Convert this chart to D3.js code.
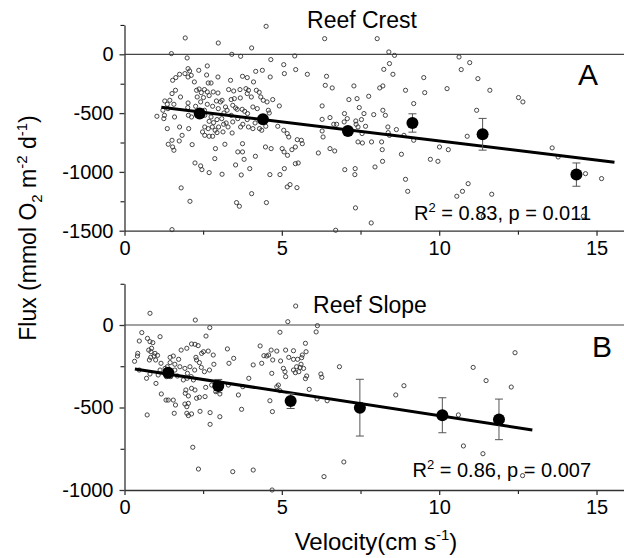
<!DOCTYPE html>
<html>
<head>
<meta charset="utf-8">
<script src="https://cdn.jsdelivr.net/npm/d3@7"></script>
<style>
  body { margin: 0; background: #fff; }
  svg text { font-family: "Liberation Sans", Arial, sans-serif; fill: #000; }
</style>
</head>
<body>
<div id="chart"></div>
<script>
// ---------------- data ----------------
// Reef crest: individual flux measurements [velocity, flux]
var crestPts = [
  [1.93,139],[2.98,96],[4.50,238],[1.49,6],[1.99,-31],[3.41,0],[3.69,-17],[4.04,54],[4.65,-45],[5.06,-88],
  [5.41,-14],[5.08,-164],[5.44,-130],[5.81,-170],[2.02,-122],[2.07,-142],[1.92,-164],[1.75,-170],[1.63,-198],[1.53,-221],
  [2.02,-193],[2.12,-179],[2.36,-136],[2.63,-99],[2.61,-176],[2.22,-235],[2.66,-244],[2.75,-244],[2.97,-193],[3.37,-221],
  [3.75,-187],[3.90,-198],[4.17,-145],[4.38,-136],[4.63,-193],[4.10,-235],[2.37,-295],[2.29,-306],[2.54,-300],[2.44,-326],
  [2.63,-320],[2.82,-320],[2.97,-329],[3.31,-300],[3.47,-312],[3.67,-300],[3.86,-292],[3.94,-306],[4.19,-306],[4.28,-323],
  [4.33,-363],[4.03,-363],[3.90,-334],[3.68,-371],[3.49,-377],[3.39,-385],[3.10,-391],[2.92,-397],[2.69,-351],[2.51,-368],
  [2.31,-363],[2.42,-405],[2.63,-425],[2.80,-442],[2.98,-462],[3.21,-448],[3.44,-434],[3.53,-456],[3.26,-476],[3.05,-405],
  [2.26,-442],[2.02,-414],[1.78,-363],[1.62,-306],[1.51,-334],[1.44,-391],[1.28,-397],[1.36,-425],[1.57,-425],[1.38,-462],
  [1.22,-476],[1.03,-527],[1.25,-547],[1.59,-533],[2.01,-453],[2.03,-519],[2.13,-533],[2.33,-504],[2.54,-476],[2.75,-533],
  [2.94,-555],[3.16,-499],[3.39,-519],[3.58,-468],[3.74,-468],[3.82,-485],[3.91,-504],[4.08,-448],[4.22,-462],[4.41,-391],
  [4.53,-405],[4.71,-385],[4.92,-439],[4.60,-499],[4.57,-476],[4.15,-584],[3.90,-555],[3.60,-547],[3.44,-575],[3.23,-584],
  [3.09,-547],[2.83,-581],[2.69,-570],[2.55,-519],[2.79,-618],[2.99,-618],[3.15,-595],[2.88,-646],[2.66,-632],[2.55,-618],
  [2.48,-660],[2.55,-689],[2.69,-697],[2.80,-697],[2.94,-666],[3.13,-660],[3.29,-618],[3.42,-669],[3.69,-618],[3.76,-595],
  [3.94,-618],[4.08,-632],[4.29,-632],[4.49,-612],[4.36,-646],[4.87,-612],[5.06,-646],[5.17,-674],[5.22,-703],[1.36,-632],
  [1.27,-519],[1.39,-765],[1.51,-731],[1.74,-737],[1.83,-689],[2.04,-632],[1.75,-618],[2.15,-768],[1.53,-788],[1.57,-816],
  [2.89,-802],[3.19,-765],[3.75,-760],[3.75,-830],[3.60,-830],[3.80,-893],[4.16,-867],[4.48,-788],[4.66,-802],[5.01,-802],
  [5.07,-830],[5.18,-859],[5.32,-811],[5.43,-788],[5.52,-924],[5.43,-930],[5.49,-726],[5.62,-731],[5.65,-760],[2.24,-924],
  [2.42,-949],[2.46,-981],[2.69,-1006],[3.10,-1020],[3.53,-941],[3.71,-1026],[3.98,-972],[4.62,-1023],[4.94,-1023],[5.08,-972],
  [5.17,-1128],[5.26,-1108],[5.48,-1134],[1.80,-1136],[2.08,-1250],[4.04,-1185],[4.51,-1261],[3.56,-1261],[3.65,-1292],[1.51,-1491],
  [2.87,-887],[6.16,-839],
  [6.36,133],[8.03,133],[8.40,20],[8.58,-9],[10.63,-23],[10.97,-71],[10.70,-130],[8.42,-79],[8.24,-128],[8.53,-170],
  [9.51,-198],[11.23,-207],[6.42,-187],[6.38,-264],[6.60,-286],[7.29,-269],[8.21,-269],[8.11,-286],[8.93,-306],[9.54,-326],
  [10.25,-292],[11.61,-306],[12.52,-368],[12.66,-405],[7.76,-357],[7.39,-377],[7.13,-385],[6.28,-439],[7.46,-453],[9.19,-419],
  [8.21,-476],[8.29,-519],[7.92,-513],[7.61,-504],[6.99,-504],[7.08,-547],[6.53,-538],[6.28,-553],[7.35,-567],[7.53,-555],
  [6.98,-575],[6.74,-595],[6.65,-595],[7.36,-595],[7.66,-612],[7.42,-618],[7.55,-674],[8.37,-618],[8.38,-666],[8.64,-640],
  [8.88,-689],[8.42,-689],[6.28,-652],[6.31,-703],[7.42,-745],[7.56,-754],[7.85,-745],[8.17,-745],[8.19,-811],[9.19,-731],
  [10.01,-788],[10.29,-811],[10.89,-697],[11.19,-476],[6.53,-802],[6.68,-822],[8.80,-850],[9.72,-893],[9.96,-910],[8.20,-910],
  [7.96,-958],[7.00,-981],[7.33,-972],[7.32,-1023],[8.93,-1063],[9.00,-1165],[10.92,-1100],[10.74,-1165],[10.56,-1207],[11.67,-1190],
  [7.34,-1306],[7.84,-1434],[6.71,-1496],[11.40,-1377],[13.59,-796],[13.78,-873],[14.65,-1015],[15.16,-1057],[14.58,-1377]
];
// Reef crest: binned means and error
var crestMeanX = [2.39, 4.40, 7.10, 9.15, 11.38, 14.36];
var crestMeanY = [-504, -553, -652, -584, -680, -1023];
var crestErr   = [30, 30, 30, 78, 135, 99];
var crestFitX  = [1.17, 15.57];
var crestFitY  = [-451, -918];

// Reef slope: individual flux measurements [velocity, flux]
var slopePts = [
  [0.81,71],[2.25,30],[2.71,-16],[2.59,-67],[0.55,-46],[0.47,-97],[0.73,-81],[0.81,-101],[0.90,-107],[1.13,-71],
  [1.05,-184],[0.97,-172],[0.42,-172],[0.41,-188],[0.32,-220],[0.47,-273],[0.70,-323],[0.79,-212],[0.84,-162],[0.77,-152],
  [0.94,-188],[0.99,-212],[0.83,-196],[0.86,-141],[1.45,-196],[1.45,-228],[1.60,-238],[1.55,-188],[1.72,-208],[1.36,-253],
  [1.13,-273],[1.29,-263],[1.16,-232],[1.33,-313],[1.47,-313],[1.00,-354],[1.17,-418],[1.32,-455],[1.60,-273],[1.68,-309],
  [1.87,-333],[2.00,-293],[1.92,-263],[1.76,-253],[1.80,-152],[1.98,-141],[2.13,-115],[2.24,-117],[2.34,-125],[2.27,-196],
  [2.29,-212],[2.38,-228],[2.44,-257],[2.45,-172],[2.51,-162],[2.66,-158],[2.82,-182],[2.84,-238],[2.70,-273],[2.54,-283],
  [2.23,-273],[2.08,-253],[2.12,-313],[1.99,-323],[2.19,-333],[2.13,-384],[1.95,-394],[2.03,-430],[1.93,-414],[1.92,-479],
  [2.03,-475],[1.98,-495],[1.98,-535],[2.29,-444],[2.24,-394],[2.38,-438],[2.56,-434],[2.58,-378],[2.77,-364],[2.90,-404],
  [3.03,-418],[3.03,-556],[2.72,-602],[2.40,-523],[2.03,-549],[2.13,-539],[1.62,-485],[1.58,-535],[1.39,-455],[1.55,-455],
  [2.72,-531],[3.27,-145],[3.32,-232],[3.47,-202],[3.30,-364],[3.62,-424],[3.76,-374],[3.95,-323],[3.72,-511],[4.09,-242],
  [4.31,-127],[4.43,-186],[4.36,-232],[4.52,-188],[4.58,-182],[4.66,-152],[4.71,-212],[4.84,-158],[4.94,-44],[4.96,-218],
  [4.68,-293],[4.62,-459],[4.70,-525],[4.84,-374],[4.89,-364],[4.94,-398],[5.05,-263],[5.10,-283],[5.12,-313],[5.22,-196],
  [5.12,-152],[5.19,20],[5.37,-208],[5.37,-273],[5.37,-156],[5.43,-289],[5.47,-253],[5.50,-208],[5.54,-283],[5.58,-257],
  [5.61,-238],[5.63,-198],[5.69,-263],[5.65,-182],[5.75,-111],[5.77,-162],[5.75,-325],[5.79,-309],[5.87,-390],[5.44,115],
  [6.09,-42],[6.13,-4],[6.24,-297],[6.27,-317],[6.12,-448],[6.44,-459],[6.34,-919],[4.69,-1000],[2.17,-741],[2.35,-873],
  [3.44,-889],[4.09,-879],[0.72,-545],[6.83,-253],[1.07,-303],[0.81,-297],
  [8.62,-424],[8.88,-368],[10.61,-545],[11.08,-257],[11.49,-337],[12.29,-376],[12.41,-168],[10.77,-733],[11.39,-780],[6.97,-830],
  [12.65,-913]
];
var slopeMeanX = [1.39, 2.98, 5.28, 7.48, 10.10, 11.90];
var slopeMeanY = [-289, -370, -461, -501, -547, -572];
var slopeErr   = [25, 40, 45, 172, 106, 123];
var slopeFitX  = [0.33, 12.96];
var slopeFitY  = [-267, -636];

var xTicks = [0, 5, 10, 15];
var xMinor = [2.5, 7.5, 12.5];

// ---------------- layout ----------------
var W = 624, H = 558;
var svg = d3.select("#chart").append("svg")
    .attr("width", W).attr("height", H);

var x = d3.scaleLinear().domain([0, 16]).range([124.5, 628]);

function panel(opt) {
  var y = d3.scaleLinear().domain(opt.yDomain).range(opt.yRange);
  var g = svg.append("g");

  // zero reference line
  g.append("line")
    .attr("x1", x(0)).attr("x2", W)
    .attr("y1", y(0)).attr("y2", y(0))
    .attr("stroke", "#444").attr("stroke-width", 1.2);

  // minor ticks
  g.append("g")
    .attr("transform", "translate(0," + opt.yRange[0] + ")")
    .call(d3.axisBottom(x).tickValues(xMinor).tickSize(4).tickFormat(""))
    .call(s => s.select(".domain").remove());
  g.append("g")
    .attr("transform", "translate(" + x(0) + ",0)")
    .call(d3.axisLeft(y).tickValues(opt.yMinor).tickSize(4).tickFormat(""))
    .call(s => s.select(".domain").remove());

  // major axes (plain hyphen, no thousands separator)
  var xa = g.append("g")
    .attr("transform", "translate(0," + opt.yRange[0] + ")")
    .call(d3.axisBottom(x).tickValues(xTicks).tickFormat(d => String(d))
      .tickSize(5).tickSizeOuter(0).tickPadding(5));
  var ya = g.append("g")
    .attr("transform", "translate(" + x(0) + ",0)")
    .call(d3.axisLeft(y).tickValues(opt.yTicks).tickFormat(d => String(d))
      .tickSize(5).tickSizeOuter(0).tickPadding(6));
  [xa, ya].forEach(a => {
    a.selectAll("text").style("font-size", "20px").attr("fill", "#000");
    a.selectAll("line, path").attr("stroke", "#333").attr("stroke-width", 1.3);
  });

  // raw measurements
  g.append("g").selectAll("circle")
    .data(opt.pts).enter().append("circle")
    .attr("cx", d => x(d[0])).attr("cy", d => y(d[1]))
    .attr("r", 2.1)
    .attr("fill", "none").attr("stroke", "#333").attr("stroke-width", 0.9);

  // regression line
  g.append("line")
    .attr("x1", x(opt.fitX[0])).attr("y1", y(opt.fitY[0]))
    .attr("x2", x(opt.fitX[1])).attr("y2", y(opt.fitY[1]))
    .attr("stroke", "#000").attr("stroke-width", 3);

  // binned means with error bars
  var means = opt.mx.map((v, i) => ({x: v, y: opt.my[i], e: opt.me[i]}));
  var eb = g.append("g").selectAll("g").data(means).enter().append("g")
    .attr("stroke", "#555").attr("stroke-width", 1);
  eb.append("line")
    .attr("x1", d => x(d.x)).attr("x2", d => x(d.x))
    .attr("y1", d => y(d.y + d.e)).attr("y2", d => y(d.y - d.e));
  eb.append("line")
    .attr("x1", d => x(d.x) - 4).attr("x2", d => x(d.x) + 4)
    .attr("y1", d => y(d.y + d.e)).attr("y2", d => y(d.y + d.e));
  eb.append("line")
    .attr("x1", d => x(d.x) - 4).attr("x2", d => x(d.x) + 4)
    .attr("y1", d => y(d.y - d.e)).attr("y2", d => y(d.y - d.e));
  g.append("g").selectAll("circle").data(means).enter().append("circle")
    .attr("cx", d => x(d.x)).attr("cy", d => y(d.y))
    .attr("r", 6).attr("fill", "#000");

  // titles and annotations
  g.append("text")
    .attr("x", opt.titleX).attr("y", opt.titleY)
    .attr("text-anchor", "middle").style("font-size", "23px")
    .text(opt.title);
  g.append("text")
    .attr("x", opt.letterX).attr("y", opt.letterY)
    .attr("text-anchor", "middle").style("font-size", "30px")
    .text(opt.letter);
  var r2 = g.append("text")
    .attr("x", 591).attr("y", opt.statY)
    .attr("text-anchor", "end").style("font-size", "20px");
  r2.append("tspan").text("R");
  r2.append("tspan").attr("dy", -8).style("font-size", "13px").text("2");
  r2.append("tspan").attr("dy", 8).text(" = " + opt.r2 + ", p = " + opt.p);
}

panel({
  yDomain: [-1500, 250], yRange: [230.7, 24.9],
  yTicks: [0, -500, -1000, -1500], yMinor: [250, -250, -750, -1250],
  pts: crestPts, fitX: crestFitX, fitY: crestFitY,
  mx: crestMeanX, my: crestMeanY, me: crestErr,
  title: "Reef Crest", titleX: 362, titleY: 28,
  letter: "A", letterX: 588, letterY: 85,
  statY: 220, r2: "0.83", p: "0.011"
});

panel({
  yDomain: [-1000, 250], yRange: [490, 283.75],
  yTicks: [0, -500, -1000], yMinor: [250, -250, -750],
  pts: slopePts, fitX: slopeFitX, fitY: slopeFitY,
  mx: slopeMeanX, my: slopeMeanY, me: slopeErr,
  title: "Reef Slope", titleX: 370, titleY: 313,
  letter: "B", letterX: 602, letterY: 357,
  statY: 477, r2: "0.86", p: "0.007"
});

// shared axis titles
var yl = svg.append("text")
  .attr("transform", "translate(36,228) rotate(-90)")
  .attr("text-anchor", "middle").style("font-size", "23px");
yl.append("tspan").text("Flux (mmol O");
yl.append("tspan").attr("dy", 6).style("font-size", "15px").text("2");
yl.append("tspan").attr("dy", -6).text(" m");
yl.append("tspan").attr("dy", -9).style("font-size", "15px").text("-2");
yl.append("tspan").attr("dy", 9).text(" d");
yl.append("tspan").attr("dy", -9).style("font-size", "15px").text("-1");
yl.append("tspan").attr("dy", 9).text(")");

var xl = svg.append("text")
  .attr("x", 376).attr("y", 550)
  .attr("text-anchor", "middle").style("font-size", "24px");
xl.append("tspan").text("Velocity(cm s");
xl.append("tspan").attr("dy", -10).style("font-size", "15px").text("-1");
xl.append("tspan").attr("dy", 10).text(")");
</script>
</body>
</html>
